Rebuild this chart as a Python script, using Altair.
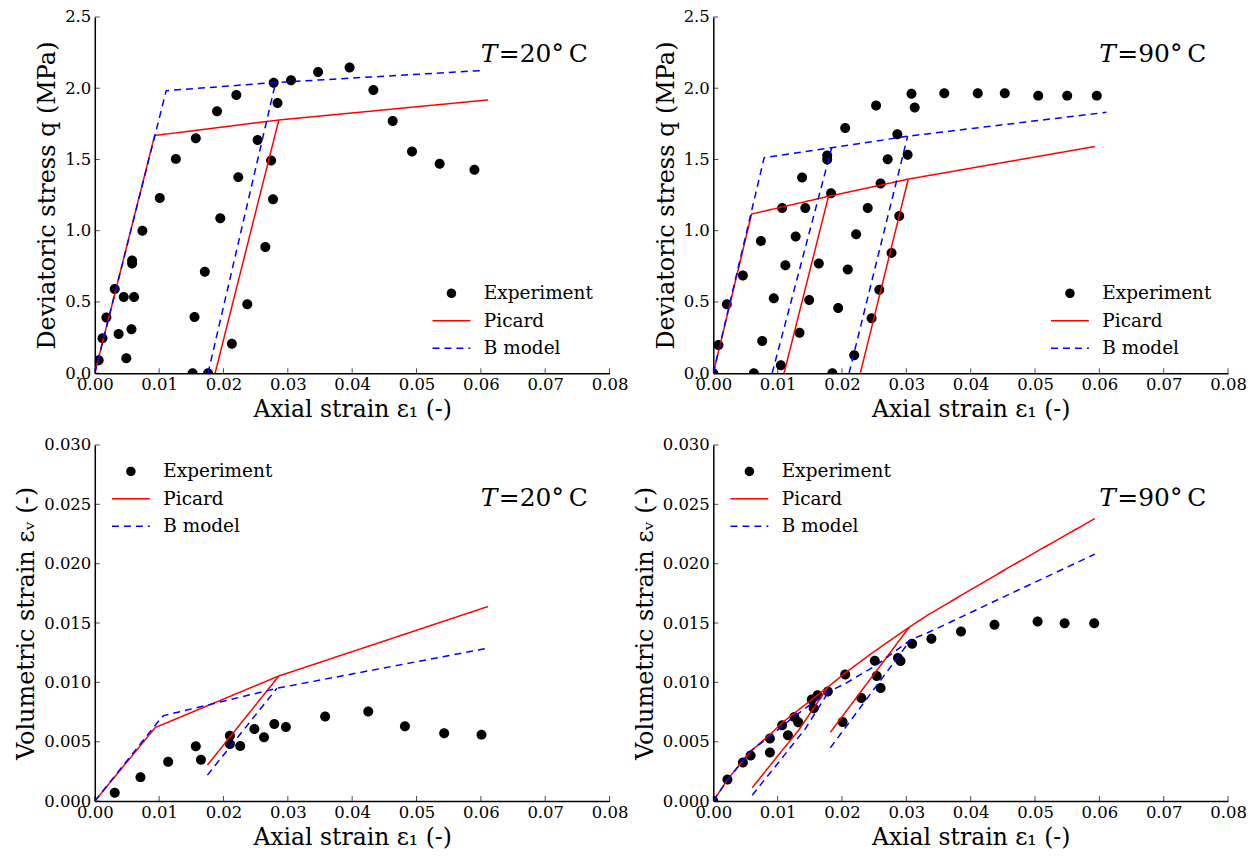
import altair as alt
import pandas as pd

FONT = "DejaVu Serif"
SERIES = ["Experiment", "Picard", "B model"]
COLORS = ["#000000", "#ff0000", "#0000ff"]
DASHES = [[1, 0], [1, 0], [7, 5]]
CIRCLE_PATH = "M-0.42,0A0.42,0.42,0,1,1,0.42,0A0.42,0.42,0,1,1,-0.42,0Z"
STROKE_PATH = "M-2,0H2"
W, H = 516, 357

x_ticks = [0.0, 0.01, 0.02, 0.03, 0.04, 0.05, 0.06, 0.07, 0.08]
q_ticks = [0.0, 0.5, 1.0, 1.5, 2.0, 2.5]
ev_ticks = [0.0, 0.005, 0.010, 0.015, 0.020, 0.025, 0.030]

# ---------------- T = 20 C, deviatoric stress ----------------
tl_exp_x = [0.0006, 0.0012, 0.0018, 0.0031, 0.0037, 0.0049, 0.0045, 0.0061, 0.0057, 0.0058,
            0.0058, 0.0074, 0.0101, 0.0126, 0.0157, 0.0190, 0.0220, 0.0278, 0.0305, 0.0347,
            0.0396, 0.0433, 0.0463, 0.0493, 0.0536, 0.0590, 0.0284, 0.0253, 0.0274, 0.0223,
            0.0277, 0.0195, 0.0265, 0.0171, 0.0237, 0.0155, 0.0213, 0.0152, 0.0176]
tl_exp_q = [0.09, 0.245, 0.39, 0.59, 0.275, 0.105, 0.534, 0.534, 0.308, 0.79,
            0.77, 1.00, 1.229, 1.504, 1.649, 1.838, 1.952, 2.038, 2.056, 2.114,
            2.146, 1.987, 1.770, 1.556, 1.47, 1.428, 1.896, 1.637, 1.493, 1.376,
            1.22, 1.087, 0.886, 0.711, 0.483, 0.394, 0.207, 0.0, 0.0]
tl_pic_load_x = [0.0, 0.0093, 0.0286, 0.0611]
tl_pic_load_q = [0.0, 1.668, 1.777, 1.918]
tl_pic_unload_x = [0.0187, 0.0286]
tl_pic_unload_q = [0.0, 1.777]
tl_bm_load_x = [0.0, 0.0111, 0.0281, 0.0605]
tl_bm_load_q = [0.0, 1.983, 2.040, 2.125]
tl_bm_unload_x = [0.0176, 0.0281]
tl_bm_unload_q = [0.0, 2.040]

# ---------------- T = 90 C, deviatoric stress ----------------
tr_exp_x = [0.0, 0.0008, 0.0021, 0.0046, 0.0074, 0.0076, 0.0063, 0.0094, 0.0112, 0.0107,
            0.0105, 0.0128, 0.0138, 0.0143, 0.0149, 0.0134, 0.0164, 0.0177, 0.0177, 0.0183,
            0.0185, 0.0194, 0.0205, 0.0209, 0.0222, 0.0219, 0.0240, 0.0246, 0.0253, 0.0258,
            0.0260, 0.0271, 0.0277, 0.0286, 0.0289, 0.0302, 0.0308, 0.0313, 0.0359, 0.0411,
            0.0453, 0.0505, 0.0550, 0.0596]
tr_exp_q = [0.0, 0.198, 0.483, 0.686, 0.928, 0.226, 0.0, 0.525, 0.758, 1.159,
            0.056, 0.959, 1.374, 1.159, 0.513, 0.284, 0.770, 1.527, 1.500, 1.262,
            0.0, 0.457, 1.721, 0.728, 0.975, 0.126, 1.159, 0.385, 1.878, 0.585,
            1.332, 1.502, 0.844, 1.677, 1.103, 1.533, 1.962, 1.864, 1.964, 1.964,
            1.964, 1.948, 1.948, 1.948]
tr_pic_load_x = [0.0, 0.00595, 0.0179, 0.0303, 0.0593]
tr_pic_load_q = [0.0, 1.117, 1.241, 1.362, 1.591]
tr_pic_unload1_x = [0.0110, 0.0179]
tr_pic_unload1_q = [0.0, 1.241]
tr_pic_unload2_x = [0.02285, 0.0303]
tr_pic_unload2_q = [0.0, 1.362]
tr_bm_load_x = [0.0, 0.0079, 0.0184, 0.0302, 0.0611]
tr_bm_load_q = [0.0, 1.512, 1.582, 1.663, 1.831]
tr_bm_unload1_x = [0.00915, 0.0184]
tr_bm_unload1_q = [0.0, 1.582]
tr_bm_unload2_x = [0.0211, 0.0302]
tr_bm_unload2_q = [0.0, 1.663]

# ---------------- T = 20 C, volumetric strain ----------------
bl_exp_x = [0.0031, 0.0071, 0.0114, 0.0157, 0.0165, 0.0210, 0.0210, 0.0226, 0.0248, 0.0263,
            0.0279, 0.0297, 0.0358, 0.0425, 0.0482, 0.0543, 0.0601]
bl_exp_ev = [0.00071, 0.00202, 0.00331, 0.00462, 0.00348, 0.00550, 0.00482, 0.00465, 0.00608, 0.00538,
             0.00650, 0.00625, 0.00712, 0.00754, 0.00630, 0.00571, 0.00560]
bl_pic_load_x = [0.0, 0.0094, 0.0286, 0.0611]
bl_pic_load_ev = [0.0, 0.0062, 0.01054, 0.01639]
bl_pic_unload_x = [0.0175, 0.0286]
bl_pic_unload_ev = [0.00303, 0.01054]
bl_bm_load_x = [0.0, 0.0100, 0.0107, 0.0283, 0.0611]
bl_bm_load_ev = [0.0, 0.0068, 0.0072, 0.0095, 0.01289]
bl_bm_unload_x = [0.0175, 0.0283]
bl_bm_unload_ev = [0.00219, 0.0095]

# ---------------- T = 90 C, volumetric strain ----------------
br_exp_x = [0.0, 0.0022, 0.0046, 0.0058, 0.0088, 0.0088, 0.0107, 0.0116, 0.0126, 0.0132,
            0.0153, 0.0156, 0.0162, 0.0178, 0.0205, 0.0201, 0.0230, 0.0251, 0.0254, 0.0260,
            0.0287, 0.0291, 0.0309, 0.0339, 0.0385, 0.0437, 0.0504, 0.0546, 0.0592]
br_exp_ev = [0.0, 0.00182, 0.00325, 0.00384, 0.00527, 0.00409, 0.00639, 0.00555, 0.00709, 0.00664,
             0.00855, 0.00782, 0.00891, 0.00924, 0.01067, 0.00667, 0.00869, 0.01182, 0.01054, 0.00953,
             0.01205, 0.01180, 0.01325, 0.01367, 0.01429, 0.01485, 0.01513, 0.01499, 0.01499]
br_pic_load_x = [0.0, 0.0022, 0.0058, 0.0088, 0.0107, 0.0140, 0.0178, 0.0205, 0.0250, 0.03045,
                 0.0334, 0.0463, 0.0593]
br_pic_load_ev = [0.0, 0.0018, 0.0042, 0.0056, 0.0066, 0.0080, 0.0096, 0.0108, 0.0126, 0.01465,
                  0.0157, 0.0198, 0.0238]
br_pic_unload1_x = [0.00605, 0.0097, 0.0133, 0.0178]
br_pic_unload1_ev = [0.00113, 0.0036, 0.0060, 0.0096]
br_pic_unload2_x = [0.0182, 0.03045]
br_pic_unload2_ev = [0.0058, 0.01465]
br_bm_load_x = [0.0, 0.0022, 0.0058, 0.0089, 0.0125, 0.0150, 0.0179, 0.0205, 0.0252, 0.0307,
                0.0334, 0.0463, 0.0593]
br_bm_load_ev = [0.0, 0.0018, 0.0042, 0.0055, 0.0071, 0.0081, 0.0092, 0.0099, 0.0114, 0.0136,
                 0.0142, 0.0175, 0.0208]
br_bm_unload1_x = [0.00605, 0.0102, 0.0143, 0.0179]
br_bm_unload1_ev = [0.0005, 0.0033, 0.0061, 0.0092]
br_bm_unload2_x = [0.0182, 0.0307]
br_bm_unload2_ev = [0.0045, 0.0136]


def make_legend(lx, ly):
    return alt.Legend(
        title=None, orient="none", legendX=lx, legendY=ly,
        labelFont=FONT, labelFontSize=18.5, labelColor="black",
        symbolSize=361, symbolStrokeWidth=1.5, symbolOpacity=1,
        rowPadding=7.5, labelOffset=22, padding=0,
    )


def panel(exp_x, exp_y, pic_segs, bm_segs, y_ticks, y_fmt, y_title, temp, leg_xy, ann_y):
    xs = alt.Scale(domain=[0, 0.08], nice=False, zero=False)
    ys = alt.Scale(domain=[0, y_ticks[-1]], nice=False, zero=False)
    xaxis = alt.Axis(
        values=x_ticks, format=".2f", title="Axial strain ε₁ (-)",
        titleFont=FONT, titleFontSize=23.5, titleFontWeight="normal", titleColor="black",
        titlePadding=5, labelFont=FONT, labelFontSize=16.5, labelColor="black",
        labelPadding=3, ticks=False, tickSize=0, grid=False, labelFlush=False,
        labelOverlap=False, domainColor="black", domainWidth=1.5,
    )
    yaxis = alt.Axis(
        values=y_ticks, format=y_fmt, title=y_title,
        titleFont=FONT, titleFontSize=24, titleFontWeight="normal", titleColor="black",
        titlePadding=5, labelFont=FONT, labelFontSize=16.5, labelColor="black",
        labelPadding=4, ticks=False, tickSize=0, grid=False, labelFlush=False,
        labelOverlap=False, domainColor="black", domainWidth=1.5,
    )
    leg = make_legend(*leg_xy)
    X = alt.X("x:Q", scale=xs, axis=xaxis)
    Y = alt.Y("y:Q", scale=ys, axis=yaxis)

    pts = pd.DataFrame({"x": exp_x, "y": exp_y, "series": "Experiment"})
    rows = []
    for name, segs in (("Picard", pic_segs), ("B model", bm_segs)):
        for k, (sx, sy) in enumerate(segs):
            for i, (a, b) in enumerate(zip(sx, sy)):
                rows.append({"x": a, "y": b, "series": name, "seg": f"{name}{k}", "idx": i})
    lines = pd.DataFrame(rows)

    points = alt.Chart(pts).mark_point(filled=True, opacity=1, size=567, strokeWidth=0, clip=True).encode(
        x=X, y=Y,
        fill=alt.Fill("series:N", scale=alt.Scale(domain=SERIES, range=COLORS), legend=leg),
        shape=alt.Shape("series:N", scale=alt.Scale(domain=SERIES, range=[CIRCLE_PATH, STROKE_PATH, STROKE_PATH]), legend=leg),
    )
    model_lines = alt.Chart(lines).mark_line(strokeWidth=1.5, clip=True).encode(
        x=X, y=Y,
        stroke=alt.Stroke("series:N", scale=alt.Scale(domain=SERIES, range=COLORS), legend=leg),
        strokeDash=alt.StrokeDash("series:N", scale=alt.Scale(domain=SERIES, range=DASHES), legend=leg),
        detail="seg:N",
        order="idx:Q",
    )
    xt = alt.Chart(pd.DataFrame({"x": x_ticks})).mark_tick(orient="vertical", size=5, thickness=1, color="black").encode(
        x=X, y=alt.value(H - 2.5))
    yt = alt.Chart(pd.DataFrame({"y": y_ticks})).mark_tick(orient="horizontal", size=5, thickness=1, color="black").encode(
        y=Y, x=alt.value(2.5))
    t1 = alt.Chart(pd.DataFrame({"s": ["T"]})).mark_text(
        align="left", baseline="alphabetic", font=FONT, fontSize=25, fontStyle="italic", color="black"
    ).encode(text="s:N", x=alt.value(387), y=alt.value(ann_y))
    t2 = alt.Chart(pd.DataFrame({"s": [f"={temp}°\u2009C"]})).mark_text(
        align="left", baseline="alphabetic", font=FONT, fontSize=25, color="black"
    ).encode(text="s:N", x=alt.value(405), y=alt.value(ann_y))
    return alt.layer(points, model_lines, xt, yt, t1, t2).properties(width=W, height=H)


tl = panel(tl_exp_x, tl_exp_q,
           [(tl_pic_load_x, tl_pic_load_q), (tl_pic_unload_x, tl_pic_unload_q)],
           [(tl_bm_load_x, tl_bm_load_q), (tl_bm_unload_x, tl_bm_unload_q)],
           q_ticks, ".1f", "Deviatoric stress q (MPa)", 20, (347, 266.5), 45)
tr = panel(tr_exp_x, tr_exp_q,
           [(tr_pic_load_x, tr_pic_load_q), (tr_pic_unload1_x, tr_pic_unload1_q), (tr_pic_unload2_x, tr_pic_unload2_q)],
           [(tr_bm_load_x, tr_bm_load_q), (tr_bm_unload1_x, tr_bm_unload1_q), (tr_bm_unload2_x, tr_bm_unload2_q)],
           q_ticks, ".1f", "Deviatoric stress q (MPa)", 90, (347, 266.5), 45)
bl = panel(bl_exp_x, bl_exp_ev,
           [(bl_pic_load_x, bl_pic_load_ev), (bl_pic_unload_x, bl_pic_unload_ev)],
           [(bl_bm_load_x, bl_bm_load_ev), (bl_bm_unload_x, bl_bm_unload_ev)],
           ev_ticks, ".3f", "Volumetric strain εᵥ (-)", 20, (25.7, 16), 61)
br = panel(br_exp_x, br_exp_ev,
           [(br_pic_load_x, br_pic_load_ev), (br_pic_unload1_x, br_pic_unload1_ev), (br_pic_unload2_x, br_pic_unload2_ev)],
           [(br_bm_load_x, br_bm_load_ev), (br_bm_unload1_x, br_bm_unload1_ev), (br_bm_unload2_x, br_bm_unload2_ev)],
           ev_ticks, ".3f", "Volumetric strain εᵥ (-)", 90, (25.7, 16), 61)

chart = alt.concat(
    tl, tr, bl, br, columns=2, spacing={"row": 72, "column": 104}, bounds="flush"
).resolve_scale(
    fill="independent", stroke="independent", shape="independent", strokeDash="independent"
).configure_view(stroke=None).properties(
    padding={"left": 6, "top": 0, "right": 5, "bottom": 5}
)

chart.save("out.html", embed_options={"renderer": "svg", "actions": False})
